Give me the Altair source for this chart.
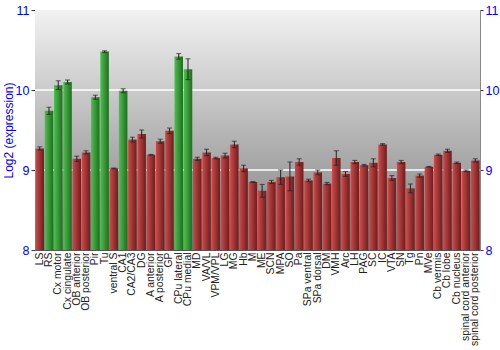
import altair as alt
import pandas as pd

regions = ["LS", "RS", "Cx motor", "Cx cingulate", "OB anterior", "OB posterior", "Pir", "Tu",
           "ventral S", "CA1", "CA2/CA3", "DG", "A anterior", "A posterior", "GP", "CPu lateral",
           "CPu medial", "MD", "VA/VL", "VPM/VPL", "LG", "MG", "Hb", "M", "ME", "SCN", "MPA", "SO",
           "Pa", "SPa ventral", "SPa dorsal", "DM", "VMH", "Arc", "LH", "PAG", "SC", "IC", "VTA",
           "SN", "Tg", "Pn", "MVe", "Cb vermis", "Cb lobe", "Cb nucleus", "spinal cord anterior",
           "spinal cord posterior"]
values = [9.27, 9.74, 10.06, 10.10, 9.14, 9.22, 9.91, 10.48,
          9.02, 9.99, 9.38, 9.45, 9.19, 9.36, 9.49, 10.42,
          10.26, 9.14, 9.22, 9.15, 9.18, 9.32, 9.02, 8.85, 8.74, 8.85, 8.91, 8.92,
          9.10, 8.87, 8.97, 8.83, 9.15, 8.95, 9.10, 9.06, 9.09, 9.32, 8.90,
          9.10, 8.77, 8.93, 9.04, 9.19, 9.24, 9.09, 8.99,
          9.12]
errors = [0.02, 0.045, 0.055, 0.025, 0.033, 0.02, 0.025, 0.01,
          0.005, 0.025, 0.03, 0.05, 0.005, 0.025, 0.035, 0.035,
          0.13, 0.02, 0.04, 0.01, 0.03, 0.04, 0.04, 0.005, 0.08, 0.02, 0.09, 0.18,
          0.04, 0.015, 0.03, 0.015, 0.09, 0.03, 0.02, 0.01, 0.05, 0.01, 0.03,
          0.02, 0.055, 0.02, 0.005, 0.01, 0.02, 0.01, 0.01,
          0.02]
highlight = ["RS", "Cx motor", "Cx cingulate", "Pir", "Tu", "CA1", "CPu lateral", "CPu medial"]
grid_values = [9, 10]
tick_values = [8, 9, 10, 11]

df = pd.DataFrame({"region": regions, "value": values, "err": errors})
df["lo"] = df["value"] - df["err"]
df["hi"] = df["value"] + df["err"]
df["group"] = ["green" if r in highlight else "red" for r in regions]

yscale = alt.Scale(domain=[8, 11], nice=False, zero=False)
xenc = alt.X("region:N", sort=regions, title=None,
             scale=alt.Scale(paddingInner=0.08, paddingOuter=0.05),
             axis=alt.Axis(labelAngle=-90, labelFontSize=10.4, labelColor="#222",
                           labelFont="Liberation Sans", ticks=False, domainColor="#555",
                           labelPadding=2))

bg = alt.Chart(pd.DataFrame({"a": [0]})).mark_rect(
    color=alt.Gradient(gradient="linear", x1=0, y1=0, x2=0, y2=1,
                       stops=[alt.GradientStop(offset=0, color="#f2f2f2"),
                              alt.GradientStop(offset=1, color="#7c7c7c")])
).encode(x=alt.value(0), x2=alt.value(445), y=alt.value(0), y2=alt.value(240))

grid = alt.Chart(pd.DataFrame({"g": grid_values})).mark_rule(color="white", strokeWidth=1.5).encode(
    y=alt.Y("g:Q", scale=yscale, title="Log2 (expression)",
            axis=alt.Axis(values=tick_values, labelColor="blue", labelFontSize=12.5,
                          titleColor="blue", titleFontSize=12, titleFontWeight="normal",
                          titleFont="Liberation Sans", labelFont="Liberation Sans",
                          tickColor="#333", tickSize=4, domainColor="#888", grid=False,
                          titleX=-26.5, titleY=120, titleAngle=270, titleAlign="center",
                          titleBaseline="middle", labelPadding=2))
)

def bars(group, c0, c1):
    return alt.Chart(df).transform_filter(alt.datum.group == group).mark_bar(
        color=alt.Gradient(gradient="linear", x1=0, y1=0, x2=1, y2=0,
                           stops=[alt.GradientStop(offset=0, color=c0),
                                  alt.GradientStop(offset=1, color=c1)])
    ).encode(x=xenc, y=alt.Y("value:Q", scale=yscale, axis=None), y2=alt.datum(8))

red = bars("red", "#cc4b4b", "#6e1c1c")
green = bars("green", "#4fbf4f", "#1e6e1e")

err_rule = alt.Chart(df).mark_rule(color="#222", strokeWidth=1).encode(
    x=xenc, y=alt.Y("lo:Q", scale=yscale, axis=None), y2="hi:Q")
cap_lo = alt.Chart(df).mark_tick(color="#222", size=5, thickness=1).encode(
    x=xenc, y=alt.Y("lo:Q", scale=yscale, axis=None))
cap_hi = alt.Chart(df).mark_tick(color="#222", size=5, thickness=1).encode(
    x=xenc, y=alt.Y("hi:Q", scale=yscale, axis=None))

right = alt.Chart(pd.DataFrame({"g": grid_values})).mark_rule(opacity=0).encode(
    y=alt.Y("g:Q", scale=yscale, title=None,
            axis=alt.Axis(orient="right", values=tick_values, labelColor="blue",
                          labelFontSize=12.5, labelFont="Liberation Sans", tickColor="#333",
                          tickSize=3, domainColor="#888", grid=False, labelPadding=2))
)

chart = alt.layer(bg, grid, red, green, err_rule, cap_lo, cap_hi, right).resolve_axis(
    y="independent"
).resolve_scale(y="shared").properties(
    width=445, height=240, autosize="none",
    padding={"left": 35, "top": 10, "right": 20, "bottom": 100}
).configure_view(stroke="#888").configure(background="white")

chart.save("out.html", embed_options={"renderer": "svg", "actions": False})
